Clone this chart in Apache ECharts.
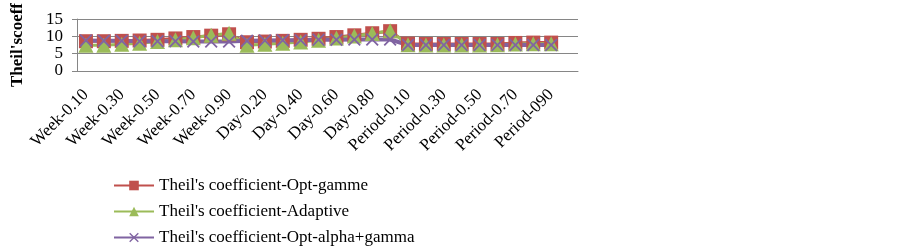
<!DOCTYPE html>
<html>
<head>
<meta charset="utf-8">
<script src="https://cdn.jsdelivr.net/npm/echarts@6/dist/echarts.min.js"></script>
<style>
  html, body { margin: 0; padding: 0; background: #fff; }
  #chart { width: 902px; height: 247px; }
</style>
</head>
<body>
<div id="chart"></div>
<script>
// categories (last slot is empty in the original)
var categories = [
  'Week-0.10', 'Week-0.20', 'Week-0.30', 'Week-0.40', 'Week-0.50', 'Week-0.60', 'Week-0.70', 'Week-0.80', 'Week-0.90',
  'Day-0.10', 'Day-0.20', 'Day-0.30', 'Day-0.40', 'Day-0.50', 'Day-0.60', 'Day-0.70', 'Day-0.80', 'Day-0.90',
  'Period-0.10', 'Period-0.20', 'Period-0.30', 'Period-0.40', 'Period-0.50', 'Period-0.60', 'Period-0.70', 'Period-0.80', 'Period-090',
  ''
];

var optGamme = [
  8.6, 8.6, 8.7, 8.8, 9.0, 9.4, 9.8, 10.2, 10.6,
  8.3, 8.5, 8.7, 9.0, 9.3, 9.8, 10.3, 10.9, 11.5,
  7.9, 7.8, 7.8, 7.8, 7.8, 7.8, 8.1, 8.2, 8.2,
  null
];
var adaptive = [
  7.4, 7.4, 7.7, 8.0, 8.5, 9.0, 9.6, 10.3, 10.9,
  7.4, 7.7, 8.0, 8.4, 8.9, 9.5, 10.1, 10.8, 11.6,
  7.6, 7.5, 7.5, 7.5, 7.5, 7.6, 7.8, 7.9, 7.9,
  null
];
var optAlphaGamma = [
  8.8, 8.7, 8.7, 8.6, 8.6, 8.6, 8.5, 8.5, 8.5,
  8.7, 8.8, 8.9, 8.9, 9.0, 9.0, 9.1, 9.1, 9.1,
  7.5, 7.5, 7.5, 7.5, 7.5, 7.5, 7.5, 7.5, 7.5,
  null
];
var yTicks = [0, 5, 10, 15];

var serif = 'Liberation Serif';
var crossPath = 'path://M0,1 L1,0 L5,4 L9,0 L10,1 L6,5 L10,9 L9,10 L5,6 L1,10 L0,9 L4,5 Z';

var myChart = echarts.init(document.getElementById('chart'));

var option = {
  animation: false,
  grid: { left: 77, right: 324, top: 11, bottom: 176 },
  legend: {
    orient: 'vertical',
    left: 108,
    top: 172,
    height: 80,
    itemWidth: 40,
    itemHeight: 12,
    itemGap: 9,
    textStyle: { fontFamily: serif, fontSize: 17, color: '#000' },
    data: [
      "Theil's coefficient-Opt-gamme",
      "Theil's coefficient-Adaptive",
      "Theil's coefficient-Opt-alpha+gamma"
    ]
  },
  xAxis: {
    type: 'category',
    data: categories,
    boundaryGap: true,
    axisLine: { lineStyle: { color: '#868686', width: 1 } },
    axisTick: { interval: 0, length: 5, lineStyle: { color: '#868686' } },
    axisLabel: {
      interval: 1,
      rotate: 45,
      margin: 21,
      fontFamily: serif,
      fontSize: 17,
      color: '#000'
    }
  },
  yAxis: {
    type: 'value',
    min: yTicks[0],
    max: yTicks[yTicks.length - 1],
    interval: 5,
    name: "Theil'scoeff",
    nameLocation: 'middle',
    nameGap: 51,
    nameTextStyle: { fontFamily: serif, fontSize: 17, fontWeight: 'bold', color: '#000' },
    axisLine: { show: true, lineStyle: { color: '#868686' } },
    axisTick: { show: true, length: 5, lineStyle: { color: '#868686' } },
    axisLabel: { fontFamily: serif, fontSize: 17, color: '#000', margin: 14 },
    splitLine: { lineStyle: { color: '#868686', width: 1 } }
  },
  series: [
    {
      name: "Theil's coefficient-Opt-gamme",
      type: 'line',
      data: optGamme,
      symbol: 'rect',
      symbolSize: 14,
      showAllSymbol: true,
      lineStyle: { color: '#C0504D', width: 3 },
      itemStyle: { color: '#C0504D' }
    },
    {
      name: "Theil's coefficient-Adaptive",
      type: 'line',
      data: adaptive,
      symbol: 'triangle',
      symbolSize: 15,
      showAllSymbol: true,
      lineStyle: { color: '#9BBB59', width: 3 },
      itemStyle: { color: '#9BBB59' }
    },
    {
      name: "Theil's coefficient-Opt-alpha+gamma",
      type: 'line',
      data: optAlphaGamma,
      symbol: crossPath,
      symbolSize: 13,
      showAllSymbol: true,
      lineStyle: { color: '#8064A2', width: 4 },
      itemStyle: { color: '#8064A2' }
    }
  ]
};

myChart.setOption(option);
</script>
</body>
</html>
